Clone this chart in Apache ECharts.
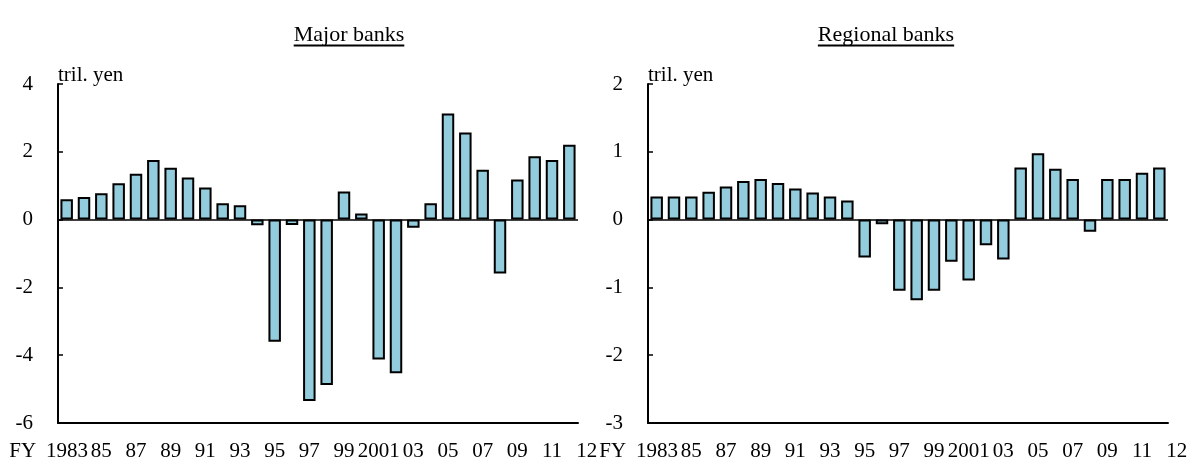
<!DOCTYPE html>
<html>
<head>
<meta charset="utf-8">
<script src="https://cdn.jsdelivr.net/npm/echarts@6/dist/echarts.min.js"></script>
<style>
  html, body { margin: 0; padding: 0; background: #fff; }
  #chart { width: 1200px; height: 463px; }
</style>
</head>
<body>
<div id="chart"></div>
<script>
// fiscal years on the x axis
let years = ['1983', '1984', '1985', '1986', '1987', '1988', '1989', '1990', '1991', '1992',
  '1993', '1994', '1995', '1996', '1997', '1998', '1999', '2000', '2001', '2002',
  '2003', '2004', '2005', '2006', '2007', '2008', '2009', '2010', '2011', '2012']
// text under the axis ('' = no label)
let yearLabels = ['1983', '', '85', '', '87', '', '89', '', '91', '',
  '93', '', '95', '', '97', '', '99', '', '2001', '',
  '03', '', '05', '', '07', '', '09', '', '11', '12']
// tril. yen
let majorBanks = [0.60, 0.67, 0.78, 1.07, 1.35, 1.76, 1.53, 1.24, 0.95, 0.48,
  0.42, -0.17, -3.60, -0.16, -5.35, -4.88, 0.83, 0.18, -4.13, -4.53,
  -0.24, 0.48, 3.13, 2.57, 1.47, -1.59, 1.18, 1.87, 1.76, 2.21]
let regionalBanks = [0.34, 0.34, 0.34, 0.41, 0.49, 0.57, 0.60, 0.54, 0.46, 0.40,
  0.34, 0.28, -0.56, -0.07, -1.05, -1.19, -1.05, -0.62, -0.90, -0.38,
  -0.59, 0.77, 0.98, 0.75, 0.60, -0.18, 0.60, 0.60, 0.69, 0.77]
let majorTicks = { min: -6, max: 4, interval: 2 }
let regionalTicks = { min: -3, max: 2, interval: 1 }

let FONT = "'Liberation Serif', 'Times New Roman', serif"
let myChart = echarts.init(document.getElementById('chart'))

function textWidth(text, size) {
  let ctx = document.createElement('canvas').getContext('2d')
  ctx.font = size + 'px ' + FONT
  return ctx.measureText(text).width
}

// underlined panel heading
function heading(text, cx) {
  let w = textWidth(text, 22)
  return [
    {
      type: 'text',
      style: { text: text, x: cx, y: 46, font: '22px ' + FONT, fill: '#000', textAlign: 'center', textVerticalAlign: 'bottom' }
    },
    {
      type: 'line',
      shape: { x1: cx - w / 2, y1: 45.5, x2: cx + w / 2, y2: 45.5 },
      style: { stroke: '#000', lineWidth: 2 }
    }
  ]
}

function xAxisFor(gridIndex) {
  return {
    type: 'category',
    gridIndex: gridIndex,
    data: years,
    axisLine: { onZero: false, lineStyle: { color: '#000', width: 2 } },
    axisTick: { interval: 1, length: 5, lineStyle: { color: '#000', width: 1.5 } },
    axisLabel: {
      interval: 0,
      margin: 18,
      color: '#000',
      fontFamily: FONT,
      fontSize: 21,
      formatter: function (value, index) {
        let t = yearLabels[index]
        if (!t) return ''
        if (index === 0) return '{fy|FY}{yr|' + t + '}'
        if (index === years.length - 1) return '{last|' + t + '}'
        return t
      },
      rich: {
        fy: { fontFamily: FONT, fontSize: 21, color: '#000', padding: [0, 10, 0, 0] },
        yr: { fontFamily: FONT, fontSize: 21, color: '#000', padding: [0, 36, 0, 0] },
        last: { fontFamily: FONT, fontSize: 21, color: '#000', padding: [0, 0, 0, 35] }
      }
    }
  }
}

function yAxisFor(gridIndex, ticks) {
  return {
    type: 'value',
    gridIndex: gridIndex,
    min: ticks.min,
    max: ticks.max,
    interval: ticks.interval,
    name: 'tril. yen',
    nameLocation: 'end',
    nameGap: -2,
    nameTextStyle: { align: 'left', verticalAlign: 'bottom', color: '#000', fontFamily: FONT, fontSize: 21 },
    splitLine: { show: false },
    axisLine: { show: true, lineStyle: { color: '#000', width: 2 } },
    axisTick: { show: true, inside: true, length: 5, lineStyle: { color: '#000', width: 1.5 } },
    axisLabel: { color: '#000', fontFamily: FONT, fontSize: 21, margin: 25 }
  }
}

function barSeries(name, idx, data) {
  return {
    name: name,
    type: 'bar',
    xAxisIndex: idx,
    yAxisIndex: idx,
    data: data,
    barCategoryGap: '28%',
    itemStyle: { color: '#93CDDD', borderColor: '#000', borderWidth: 2 },
    markLine: {
      silent: true,
      symbol: 'none',
      label: { show: false },
      lineStyle: { color: '#000', width: 1.5, type: 'solid' },
      data: [{ yAxis: 0 }]
    },
    animation: false
  }
}

let option = {
  animation: false,
  grid: [
    { left: 58, right: 622, top: 84, bottom: 40 },
    { left: 648, right: 32, top: 84, bottom: 40 }
  ],
  xAxis: [xAxisFor(0), xAxisFor(1)],
  yAxis: [yAxisFor(0, majorTicks), yAxisFor(1, regionalTicks)],
  graphic: heading('Major banks', 349).concat(heading('Regional banks', 886)),
  series: [
    barSeries('Major banks', 0, majorBanks),
    barSeries('Regional banks', 1, regionalBanks)
  ]
}
myChart.setOption(option)
</script>
</body>
</html>
